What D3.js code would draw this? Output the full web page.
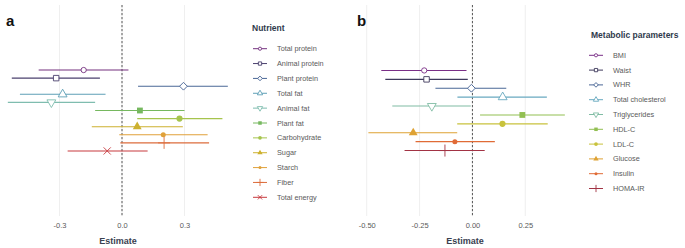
<!DOCTYPE html>
<html><head><meta charset="utf-8">
<script src="https://cdn.jsdelivr.net/npm/d3@7"></script>
<style>
body{margin:0;background:#fff;}
svg{display:block;font-family:"Liberation Sans",Arial,sans-serif;}
</style></head>
<body><svg id="c" width="685" height="248"></svg>
<script>
// ---- Panel a data ----
const nutrients = ["Total protein","Animal protein","Plant protein","Total fat","Animal fat","Plant fat","Carbohydrate","Sugar","Starch","Fiber","Total energy"];
const nutEst  = [-0.184,-0.316, 0.295,-0.285,-0.339, 0.086, 0.276, 0.073, 0.198, 0.202,-0.071];
const nutLow  = [-0.400,-0.529, 0.077,-0.490,-0.548,-0.129, 0.073,-0.145,-0.013,-0.008,-0.261];
const nutHigh = [ 0.031,-0.106, 0.508,-0.079,-0.129, 0.300, 0.482, 0.292, 0.411, 0.418, 0.123];
const nutColors = ["#74307f","#4b416e","#4a6796","#5e9fb6","#7fbdaf","#76b85f","#a6c44d","#cdb12f","#e0a13a","#dc6d3c","#c73a3e"];
const nutShapes = ["circleOpen","squareOpen","diamondOpen","triangleOpen","triangleDownOpen","squareFilled","circleFilled","triangleFilled","bullet","plus","cross"];
const ticksA = [-0.3, 0.0, 0.3];

// ---- Panel b data ----
const metab = ["BMI","Waist","WHR","Total cholesterol","Triglycerides","HDL-C","LDL-C","Glucose","Insulin","HOMA-IR"];
const metEst  = [-0.228,-0.217,-0.005, 0.143,-0.192, 0.236, 0.142,-0.280,-0.083,-0.130];
const metLow  = [-0.431,-0.412,-0.175,-0.071,-0.379, 0.036,-0.072,-0.492,-0.269,-0.321];
const metHigh = [-0.028,-0.022, 0.160, 0.352,-0.008, 0.437, 0.356,-0.072, 0.106, 0.058];
const metColors = ["#7a2f87","#3f3a5c","#4a6796","#68a9c0","#80bca4","#92bf52","#c8c23c","#dea233","#e06b36","#a23344"];
const metShapes = ["circleOpen","squareOpen","diamondOpen","triangleOpen","triangleDownOpen","squareFilled","circleFilled","triangleFilled","bullet","plus"];
const ticksB = [-0.50, -0.25, 0.00, 0.25];

const svg = d3.select("#c");

function drawShape(g, shape, x, y, color, scale) {
  const s = scale;
  const open = shape.endsWith("Open");
  const fill = open ? "#fff" : color;
  const sw = open ? 0.9 : 0;
  const add = (type, size, rot) => g.append("path")
    .attr("d", d3.symbol().type(type).size(size * s * s)())
    .attr("transform", `translate(${x},${y}) rotate(${rot||0})`)
    .attr("fill", fill).attr("stroke", open ? color : "none").attr("stroke-width", sw);
  switch (shape) {
    case "circleOpen": add(d3.symbolCircle, 22); break;
    case "squareOpen": add(d3.symbolSquare, 30); break;
    case "diamondOpen": add(d3.symbolSquare, 30, 45); break;
    case "triangleOpen": add(d3.symbolTriangle, 34, 0); break;
    case "triangleDownOpen": add(d3.symbolTriangle, 34, 180); break;
    case "squareFilled": add(d3.symbolSquare, 34); break;
    case "circleFilled": add(d3.symbolCircle, 30); break;
    case "triangleFilled": add(d3.symbolTriangle, 34); break;
    case "bullet": add(d3.symbolCircle, 20); break;
    case "plus": {
      const a = 6 * s;
      g.append("path").attr("d", `M${x-a},${y}H${x+a}M${x},${y-a}V${y+a}`)
        .attr("stroke", color).attr("stroke-width", 0.9).attr("fill", "none");
      break;
    }
    case "cross": {
      const a = 3.6 * s;
      g.append("path").attr("d", `M${x-a},${y-a}L${x+a},${y+a}M${x-a},${y+a}L${x+a},${y-a}`)
        .attr("stroke", color).attr("stroke-width", 0.9).attr("fill", "none");
      break;
    }
  }
}

function panel(opts) {
  const {names, est, low, high, colors, shapes, ticks, domain, range, label, labelX,
         legendTitle, legendTitleX, legendTitleY, legendKeyX, legendY0, legendStep, tickFmt} = opts;
  const g = svg.append("g");
  const x = d3.scaleLinear().domain(domain).range(range);
  const top = 5, bottom = 216;
  const center = (top + bottom) / 2;
  const y = d3.scaleBand().domain(names).range([center - 44.5, center + 44.5]);
  const yc = n => y(n) + y.bandwidth() / 2;

  // grid lines
  g.selectAll(".grid").data(ticks).join("line")
    .attr("x1", d => x(d)).attr("x2", d => x(d))
    .attr("y1", top).attr("y2", bottom)
    .attr("stroke", "#ebebeb").attr("stroke-width", 0.8);

  // zero dashed line
  g.append("line").attr("x1", x(0)).attr("x2", x(0)).attr("y1", top).attr("y2", bottom)
    .attr("stroke", "#444").attr("stroke-width", 0.9).attr("stroke-dasharray", "2.2,1.8");

  // axis
  const axis = d3.axisBottom(x).tickValues(ticks).tickFormat(tickFmt).tickSize(0).tickPadding(0);
  const ax = g.append("g").attr("transform", `translate(0,223)`).call(axis);
  ax.select(".domain").remove();
  ax.selectAll("text").attr("fill", "#5a5a5a").attr("font-size", 7.5).attr("dy", "0.71em");

  g.append("text").attr("x", opts.titleX).attr("y", 244).attr("text-anchor", "middle")
    .attr("font-size", 9).attr("font-weight", "bold").attr("fill", "#3a4150").text("Estimate");

  // panel label
  g.append("text").attr("x", labelX).attr("y", 26).attr("font-size", 15).attr("font-weight", "bold")
    .attr("fill", "#111").text(label);

  // error bars
  names.forEach((n, i) => {
    g.append("line").attr("x1", x(low[i])).attr("x2", x(high[i]))
      .attr("y1", yc(n)).attr("y2", yc(n)).attr("stroke", colors[i]).attr("stroke-width", 1.1);
  });
  names.forEach((n, i) => drawShape(g, shapes[i], x(est[i]), yc(n), colors[i], 1));

  // legend
  const lg = g.append("g");
  lg.append("text").attr("x", legendTitleX).attr("y", legendTitleY).attr("font-size", 8.5)
    .attr("font-weight", "bold").attr("fill", "#2f3a4c").text(legendTitle);
  names.forEach((n, i) => {
    const yy = legendY0 + i * legendStep;
    lg.append("line").attr("x1", legendKeyX).attr("x2", legendKeyX + 14).attr("y1", yy).attr("y2", yy)
      .attr("stroke", colors[i]).attr("stroke-width", 1);
    drawShape(lg, shapes[i], legendKeyX + 7, yy, colors[i], 0.6);
    lg.append("text").attr("x", legendKeyX + 24).attr("y", yy).attr("dy", "0.35em")
      .attr("font-size", 7.3).attr("fill", "#5a5a5a").text(n);
  });
}

const fmt = p => d => d3.format(p)(d).replace("\u2212", "-");

panel({names: nutrients, est: nutEst, low: nutLow, high: nutHigh, colors: nutColors, shapes: nutShapes,
  ticks: ticksA, domain: [-0.3, 0.3], range: [59.5, 184.5], label: "a", labelX: 6, titleX: 118,
  legendTitle: "Nutrient", legendTitleX: 252, legendTitleY: 31, legendKeyX: 253, legendY0: 48.7, legendStep: 14.86,
  tickFmt: fmt(".1f")});

panel({names: metab, est: metEst, low: metLow, high: metHigh, colors: metColors, shapes: metShapes,
  ticks: ticksB, domain: [-0.5, 0.25], range: [366.7, 525.3], label: "b", labelX: 357, titleX: 465,
  legendTitle: "Metabolic parameters", legendTitleX: 591, legendTitleY: 38, legendKeyX: 589, legendY0: 55.3, legendStep: 14.8,
  tickFmt: fmt(".2f")});
</script></body></html>
